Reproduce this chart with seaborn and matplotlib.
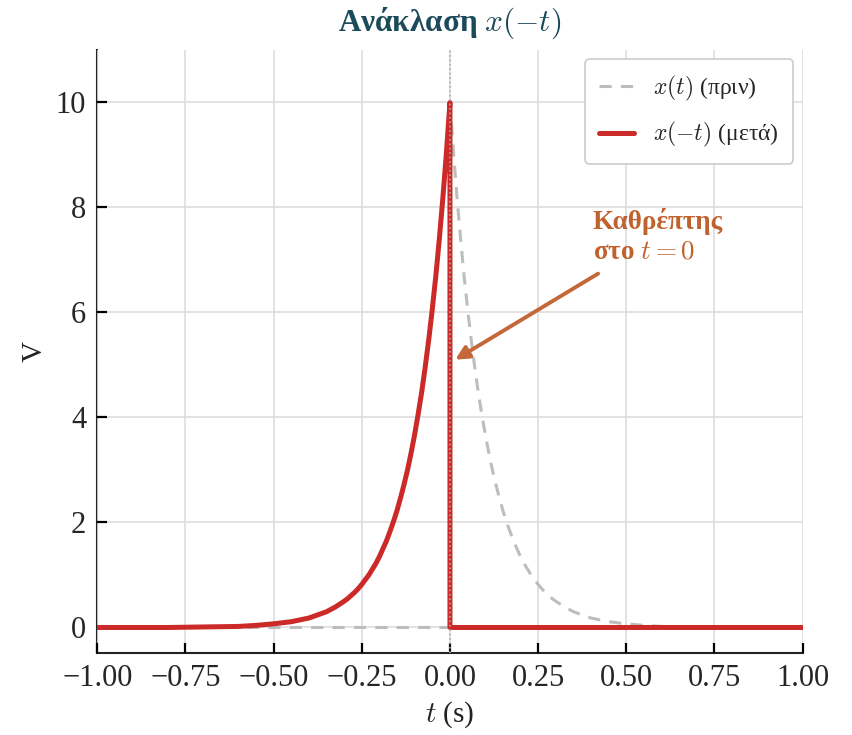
import matplotlib
matplotlib.use("Agg")
import matplotlib.pyplot as plt
import seaborn as sns
import pandas as pd

# ---- data ----
t_left = [-1.00, -0.90, -0.80, -0.70, -0.60, -0.55, -0.50, -0.45, -0.40, -0.375,
          -0.35, -0.325, -0.30, -0.29, -0.28, -0.27, -0.26, -0.25, -0.24, -0.23,
          -0.22, -0.21, -0.20, -0.19, -0.18, -0.17, -0.16, -0.15, -0.14, -0.13,
          -0.12, -0.11, -0.10, -0.09, -0.08, -0.07, -0.06, -0.05, -0.04, -0.03,
          -0.02, -0.01, 0.00]
v_left = [0.00, 0.00, 0.00, 0.01, 0.02, 0.04, 0.07, 0.11, 0.18, 0.24,
          0.30, 0.39, 0.50, 0.55, 0.61, 0.67, 0.74, 0.82, 0.91, 1.00,
          1.11, 1.22, 1.35, 1.50, 1.65, 1.83, 2.02, 2.23, 2.47, 2.73,
          3.01, 3.33, 3.68, 4.07, 4.49, 4.97, 5.49, 6.07, 6.70, 7.41,
          8.19, 9.05, 10.00]

# x(t) (before): zero for t<0, decaying for t>=0
t_before = [-1.00, 0.00] + [-v for v in reversed(t_left)]
v_before = [0.00, 0.00] + list(reversed(v_left))

# x(-t) (after): rising for t<0, zero for t>0
t_after = t_left + [0.00, 1.00]
v_after = v_left + [0.00, 0.00]

x_ticks = [-1.00, -0.75, -0.50, -0.25, 0.00, 0.25, 0.50, 0.75, 1.00]
y_ticks = [0, 2, 4, 6, 8, 10]

title_txt = "Ανάκλαση $x(-t)$"
label_before = "$x(t)$ (πριν)"
label_after = "$x(-t)$ (μετά)"
annot_txt = "Καθρέπτης\nστο $t=0$"

# ---- style ----
sns.set_theme(style="whitegrid")
plt.rcParams["font.family"] = ["Liberation Serif", "DejaVu Serif"]
plt.rcParams["mathtext.fontset"] = "cm"
plt.rcParams["axes.unicode_minus"] = True

fig = plt.figure(figsize=(8.53, 7.35), dpi=100)
ax = fig.add_axes([0.114, 0.112, 0.827, 0.82])
ax.set_axisbelow(False)

df_b = pd.DataFrame({"t": t_before, "v": v_before})
df_a = pd.DataFrame({"t": t_after, "v": v_after})

sns.lineplot(data=df_b, x="t", y="v", ax=ax, sort=False, estimator=None,
             color="#bdbdbd", lw=2.2, ls=(0, (4, 3)), label=label_before, zorder=2.6)
sns.lineplot(data=df_a, x="t", y="v", ax=ax, sort=False, estimator=None,
             color="#cc2929", lw=3.6, label=label_after, zorder=3)
ax.axvline(0, color="#aaaaaa", lw=1.2, ls=":", zorder=4)

ax.set_xlim(-1.0, 1.0)
ax.set_ylim(-0.48, 11.0)
ax.set_xticks(x_ticks)
ax.set_xticklabels([f"{v:.2f}".replace("-", "\u2212") for v in x_ticks])
ax.set_yticks(y_ticks)
ax.tick_params(axis="both", which="major", labelsize=22, length=7, width=1.6,
               direction="in", color="#000000", bottom=True, left=True, pad=8)
ax.grid(True, color="#dddddd", lw=1.2)
for s in ["top", "right"]:
    ax.spines[s].set_visible(False)
for s in ["left", "bottom"]:
    ax.spines[s].set_color("#222222")
    ax.spines[s].set_linewidth(1.5)

ax.set_xlabel("$t$ (s)", fontsize=21, color="#222222", labelpad=5)
ax.set_ylabel("V", fontsize=21, color="#222222", labelpad=6)
ax.set_title(title_txt, fontsize=22.5, fontweight="bold", color="#1b4a5a", pad=14)

ax.text(0.405, 7.45, annot_txt, fontsize=19.5, fontweight="bold", color="#c0622e",
        ha="left", va="center", linespacing=1.25)
ax.annotate("", xy=(0.015, 5.1), xytext=(0.42, 6.74),
            arrowprops=dict(arrowstyle="-|>", color="#c4683a", lw=2.8,
                            mutation_scale=20, shrinkA=0, shrinkB=0))

leg = ax.legend(loc="upper right", fontsize=17, frameon=True, fancybox=True,
                framealpha=1.0, edgecolor="#cccccc", borderpad=0.6,
                handlelength=1.5, handletextpad=0.8, labelspacing=0.75,
                borderaxespad=0.4)
leg.get_frame().set_linewidth(1.2)
leg.set_zorder(5)

fig.savefig("out.png", dpi=100)
